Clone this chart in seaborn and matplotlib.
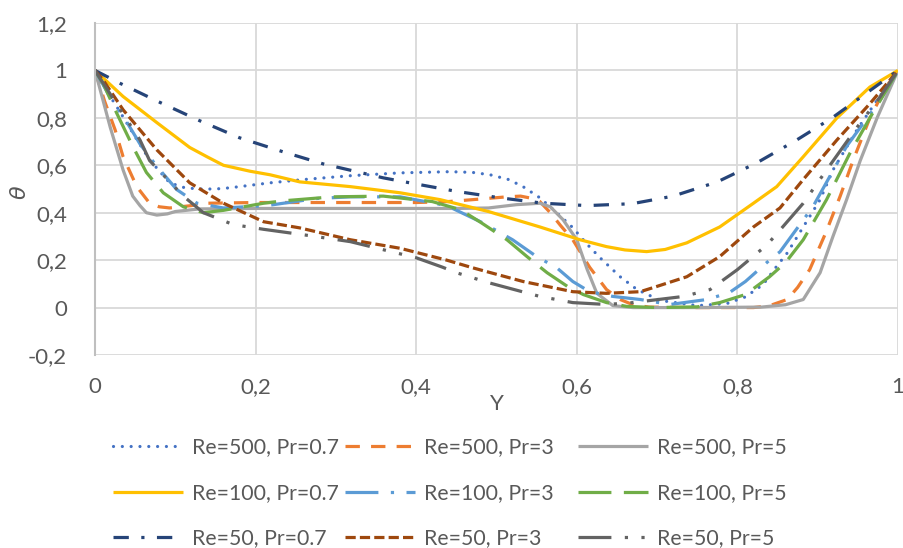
import numpy as np
import pandas as pd
import seaborn as sns
import matplotlib
matplotlib.use("Agg")
import matplotlib.pyplot as plt

# ---------------- data ----------------
labels = ["Re=500, Pr=0.7", "Re=500, Pr=3", "Re=500, Pr=5",
          "Re=100, Pr=0.7", "Re=100, Pr=3", "Re=100, Pr=5",
          "Re=50, Pr=0.7", "Re=50, Pr=3", "Re=50, Pr=5"]

x_500_07 = [0, 0.019, 0.031, 0.05, 0.068, 0.093, 0.112, 0.131, 0.15, 0.168, 0.218, 0.26, 0.318, 0.38, 0.442,
            0.47, 0.492, 0.515, 0.533, 0.554, 0.575, 0.595, 0.612, 0.629, 0.654, 0.675, 0.704, 0.75, 0.787,
            0.81, 0.832, 0.848, 0.862, 0.882, 0.903, 0.919, 0.949, 0.975, 1]
y_500_07 = [1, 0.89, 0.826, 0.72, 0.623, 0.526, 0.505, 0.50, 0.50, 0.505, 0.526, 0.54, 0.556, 0.568, 0.573,
            0.57, 0.56, 0.54, 0.51, 0.463, 0.40, 0.337, 0.27, 0.21, 0.13, 0.076, 0.03, 0.008, 0.017,
            0.045, 0.097, 0.17, 0.23, 0.34, 0.455, 0.58, 0.75, 0.88, 1]

x_500_3 = [0, 0.012, 0.025, 0.035, 0.052, 0.068, 0.08, 0.093, 0.12, 0.14, 0.2, 0.3, 0.4, 0.44, 0.47, 0.513,
           0.53, 0.545, 0.554, 0.567, 0.58, 0.595, 0.616, 0.637, 0.654, 0.67, 0.69, 0.75, 0.82, 0.84, 0.862,
           0.875, 0.89, 0.91, 0.928, 0.944, 0.965, 0.985, 1]
y_500_3 = [1, 0.87, 0.75, 0.636, 0.51, 0.44, 0.425, 0.42, 0.43, 0.44, 0.443, 0.443, 0.443, 0.447, 0.455, 0.467,
           0.47, 0.46, 0.447, 0.40, 0.345, 0.286, 0.17, 0.076, 0.034, 0.012, 0.002, 0, 0, 0.008, 0.034,
           0.085, 0.16, 0.315, 0.47, 0.62, 0.80, 0.93, 1]

x_500_5 = [0, 0.019, 0.035, 0.047, 0.056, 0.064, 0.077, 0.09, 0.10, 0.13, 0.2, 0.3, 0.4, 0.45, 0.49, 0.525,
           0.554, 0.567, 0.583, 0.6, 0.613, 0.625, 0.645, 0.67, 0.75, 0.83, 0.86, 0.882, 0.903, 0.919, 0.936,
           0.953, 0.974, 1]
y_500_5 = [1, 0.76, 0.58, 0.47, 0.43, 0.40, 0.39, 0.395, 0.405, 0.416, 0.418, 0.418, 0.418, 0.418, 0.42, 0.434,
           0.44, 0.425, 0.37, 0.286, 0.16, 0.06, 0.008, 0, 0, 0.002, 0.012, 0.034, 0.147, 0.30, 0.455,
           0.62, 0.80, 1]

x_100_07 = [0, 0.035, 0.077, 0.118, 0.14, 0.16, 0.193, 0.218, 0.255, 0.318, 0.38, 0.43, 0.49, 0.554, 0.604,
            0.637, 0.66, 0.687, 0.71, 0.737, 0.778, 0.82, 0.849, 0.882, 0.924, 0.965, 1]
y_100_07 = [1, 0.89, 0.78, 0.675, 0.635, 0.60, 0.575, 0.56, 0.53, 0.51, 0.484, 0.455, 0.405, 0.34, 0.286,
            0.257, 0.243, 0.236, 0.245, 0.273, 0.34, 0.44, 0.51, 0.636, 0.80, 0.93, 1]

x_100_3 = [0, 0.02, 0.04, 0.056, 0.077, 0.102, 0.127, 0.16, 0.214, 0.276, 0.318, 0.38, 0.438, 0.483, 0.52,
           0.55, 0.575, 0.595, 0.616, 0.645, 0.679, 0.716, 0.762, 0.79, 0.81, 0.845, 0.853, 0.894, 0.936,
           0.978, 1]
y_100_3 = [1, 0.88, 0.78, 0.69, 0.595, 0.497, 0.44, 0.42, 0.43, 0.46, 0.467, 0.467, 0.43, 0.357, 0.286,
           0.215, 0.168, 0.11, 0.067, 0.047, 0.034, 0.013, 0.034, 0.063, 0.11, 0.215, 0.235, 0.425, 0.68,
           0.876, 1]

x_100_5 = [0, 0.01, 0.027, 0.047, 0.064, 0.085, 0.11, 0.135, 0.16, 0.21, 0.234, 0.296, 0.359, 0.42, 0.455,
           0.48, 0.513, 0.538, 0.563, 0.588, 0.608, 0.637, 0.662, 0.7, 0.75, 0.778, 0.81, 0.84, 0.86, 0.882,
           0.911, 0.94, 0.965, 1]
y_100_5 = [1, 0.946, 0.82, 0.68, 0.57, 0.484, 0.425, 0.40, 0.41, 0.44, 0.45, 0.467, 0.47, 0.447, 0.413,
           0.36, 0.286, 0.215, 0.147, 0.09, 0.055, 0.021, 0.005, 0, 0.003, 0.021, 0.055, 0.13, 0.19, 0.286,
           0.455, 0.65, 0.80, 1]

x_50_07 = [0, 0.031, 0.081, 0.131, 0.18, 0.234, 0.284, 0.359, 0.392, 0.426, 0.45, 0.504, 0.558, 0.613, 0.669,
           0.72, 0.775, 0.824, 0.874, 0.918, 0.963, 1]
y_50_07 = [1, 0.946, 0.865, 0.787, 0.716, 0.657, 0.606, 0.547, 0.526, 0.505, 0.49, 0.463, 0.44, 0.43, 0.438,
           0.47, 0.53, 0.61, 0.707, 0.80, 0.91, 1]

x_50_3 = [0, 0.01, 0.035, 0.077, 0.118, 0.16, 0.21, 0.255, 0.318, 0.38, 0.438, 0.47, 0.533, 0.595, 0.637,
          0.679, 0.695, 0.737, 0.778, 0.82, 0.853, 0.882, 0.924, 0.965, 1]
y_50_3 = [1, 0.96, 0.834, 0.665, 0.526, 0.44, 0.362, 0.336, 0.286, 0.25, 0.20, 0.168, 0.11, 0.067, 0.06,
          0.067, 0.084, 0.13, 0.215, 0.34, 0.42, 0.54, 0.707, 0.86, 1]

x_50_5 = [0, 0.019, 0.056, 0.068, 0.11, 0.135, 0.172, 0.21, 0.268, 0.318, 0.359, 0.4, 0.433, 0.45, 0.49,
          0.554, 0.595, 0.637, 0.67, 0.733, 0.766, 0.8, 0.837, 0.85, 0.882, 0.911, 0.949, 0.978, 1]
y_50_5 = [1, 0.9, 0.707, 0.62, 0.47, 0.40, 0.35, 0.33, 0.303, 0.278, 0.244, 0.21, 0.17, 0.147, 0.105,
          0.047, 0.021, 0.013, 0.021, 0.047, 0.076, 0.16, 0.265, 0.315, 0.44, 0.58, 0.76, 0.89, 1]

xs = [x_500_07, x_500_3, x_500_5, x_100_07, x_100_3, x_100_5, x_50_07, x_50_3, x_50_5]
ys = [y_500_07, y_500_3, y_500_5, y_100_07, y_100_3, y_100_5, y_50_07, y_50_3, y_50_5]

y_ticks = [-0.2, 0, 0.2, 0.4, 0.6, 0.8, 1, 1.2]
y_tick_labels = ["-0,2", "0", "0,2", "0,4", "0,6", "0,8", "1", "1,2"]
x_ticks = [0, 0.2, 0.4, 0.6, 0.8, 1]
x_tick_labels = ["0", "0,2", "0,4", "0,6", "0,8", "1"]

# ---------------- styles ----------------
colors = ["#4472C4", "#ED7D31", "#A5A5A5", "#FFC000", "#5B9BD5", "#70AD47", "#264478", "#9E480E", "#636363"]
styles = [(0, (0.01, 2.75)), (0, (4.5, 3.5)), "-", "-", (0, (10.3, 3.9, 1, 3.9)), (0, (10.3, 3.9)),
          (0, (4.8, 3.9, 1, 3.9)), (0, (3.2, 1.3)), (0, (10.3, 4.2, 1, 4.2, 1, 4.2))]
caps = ["round", "butt", "butt", "butt", "butt", "butt", "butt", "butt", "butt"]

sns.set_theme(style="white")
plt.rcParams["font.family"] = ["Lato", "DejaVu Sans"]
TXT = "#595959"
FS = 16
LFS = 15.3

W, H = 904, 548
fig = plt.figure(figsize=(W / 100, H / 100), dpi=100)
ax = fig.add_axes([95 / W, 1 - 355 / H, (898 - 95) / W, (355 - 23) / H])

handles = []
for lab, x, y, c, ls, cap in zip(labels, xs, ys, colors, styles, caps):
    df = pd.DataFrame({"Y": x, "theta": y})
    sns.lineplot(data=df, x="Y", y="theta", ax=ax, color=c, linewidth=2.3, linestyle=ls,
                 dash_capstyle=cap, solid_capstyle="butt", sort=False, estimator=None, legend=False)
    line = ax.get_lines()[-1]
    line.set_label(lab)
    handles.append(line)
if ax.get_legend() is not None:
    ax.get_legend().remove()

ax.set_xlim(0, 1)
ax.set_ylim(-0.2, 1.2)
ax.set_xticks(x_ticks)
ax.set_xticklabels(x_tick_labels)
ax.set_yticks(y_ticks)
ax.set_yticklabels(y_tick_labels)
ax.tick_params(axis="both", length=0, labelsize=FS, labelcolor=TXT)
ax.tick_params(axis="x", pad=16)
ax.tick_params(axis="y", pad=20)
ax.grid(True, color="#D9D9D9", linewidth=1.3)
ax.set_axisbelow(True)
for s in ["top", "right", "bottom"]:
    ax.spines[s].set_visible(False)
ax.spines["left"].set_color("#BFBFBF")
ax.spines["left"].set_linewidth(1.5)

ax.set_xlabel("Y", fontsize=FS, color=TXT, labelpad=-2)
ax.set_ylabel("")
fig.text(20 / W, 1 - 192 / H, "θ", fontsize=FS, color=TXT, fontstyle="italic",
         rotation=90, ha="center", va="center", family=["DejaVu Sans"])

# legend: three columns placed like the reference
col_x = [113, 345, 578]
for ci in range(3):
    hs = [handles[ci], handles[ci + 3], handles[ci + 6]]
    fig.legend(handles=hs, labels=[h.get_label() for h in hs], loc="center left",
               bbox_to_anchor=(col_x[ci] / W, 1 - 493 / H), frameon=False,
               fontsize=LFS, labelcolor=TXT, handlelength=3.3, handletextpad=0.4,
               borderpad=0, borderaxespad=0, labelspacing=1.2)

fig.savefig("out.png", dpi=100)
